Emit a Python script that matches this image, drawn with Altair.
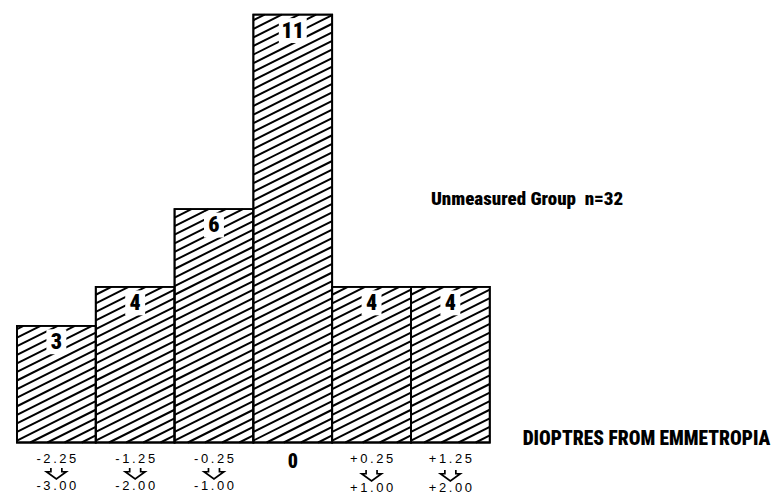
import altair as alt
import pandas as pd

# ---------------- data ----------------
counts = [3, 4, 6, 11, 4, 4]
upper_labels = ["-2.25", "-1.25", "-0.25", "0", "+0.25", "+1.25"]
lower_labels = ["-3.00", "-2.00", "-1.00", "", "+1.00", "+2.00"]
group_label = "Unmeasured Group\u00a0\u00a0n=32"
axis_label = "DIOPTRES FROM EMMETROPIA"

COND = ("'Noto Sans ExtraCondensed', 'Noto Sans Condensed', 'Roboto Condensed', "
        "'DejaVu Sans Condensed', 'Liberation Sans Narrow', 'Open Sans Condensed', "
        "'Liberation Sans', sans-serif")
PLAIN = "'Liberation Sans', Arial, Helvetica, sans-serif"

W, H = 495, 429
XDOM = [-0.0886, 6.177]
YDOM = [0, 11]
KX = W / (XDOM[1] - XDOM[0])   # px per x unit
KY = H / (YDOM[1] - YDOM[0])   # px per y unit


def spaced(s):
    return "\u2009".join(list(s))


rows = []
for i, (c, u, l) in enumerate(zip(counts, upper_labels, lower_labels)):
    side = "zero" if l == "" else ("neg" if u.startswith("-") else "pos")
    half = 2.8 if c >= 10 else 2.0
    rows.append({
        "lo": i, "hi": i + 1, "mid": i + 0.5, "count": c,
        "upper": spaced(u) if side != "zero" else u,
        "lower": spaced(l),
        "side": side,
        "box": f"M{-half},-2.5H{half}V2.5H{-half}Z",
    })
bars = pd.DataFrame(rows)

# hatch lines (style only): slope and spacing in pixels converted to data units
slope = 0.5 * KX / KY
step = 8.6 / KY
hatch = []
for i, c in enumerate(counts):
    k = -int(slope / step) - 2
    while True:
        b = k * step + 0.05
        k += 1
        if b > c:
            break
        xs = max(0.0, -b / slope)
        xe = min(1.0, (c - b) / slope)
        if xe - xs <= 1e-6:
            continue
        hatch.append({"x1": i + xs, "x2": i + xe,
                      "y1": slope * xs + b, "y2": slope * xe + b})
hatch = pd.DataFrame(hatch)

xs_ = alt.Scale(domain=XDOM, nice=False, zero=False)
ys_ = alt.Scale(domain=YDOM, nice=False, zero=False)

base = alt.Chart(bars)

bar_rect = base.mark_rect(fill="white", stroke="black", strokeWidth=1.8).encode(
    x=alt.X("lo:Q", scale=xs_, axis=alt.Axis(
        values=[0, 1, 2, 3, 4, 5, 6], labels=False, ticks=True, tickSize=6,
        tickWidth=1.5, tickColor="black", domainColor="black", domainWidth=2.5,
        grid=False, title=None)),
    x2="hi:Q",
    y=alt.Y("count:Q", scale=ys_, axis=None),
    y2=alt.datum(0),
)

hatch_lines = alt.Chart(hatch).mark_rule(stroke="black", strokeWidth=2, strokeCap="butt").encode(
    x=alt.X("x1:Q", scale=xs_, axis=None), x2="x2:Q",
    y=alt.Y("y1:Q", scale=ys_, axis=None), y2="y2:Q",
)

outline = base.mark_rect(filled=False, stroke="black", strokeWidth=1.8).encode(
    x=alt.X("lo:Q", scale=xs_, axis=None), x2="hi:Q",
    y=alt.Y("count:Q", scale=ys_, axis=None), y2=alt.datum(0),
)

boxes = base.mark_point(filled=True, fill="white", strokeWidth=0, opacity=1, size=100, yOffset=16).encode(
    x=alt.X("mid:Q", scale=xs_, axis=None),
    y=alt.Y("count:Q", scale=ys_, axis=None),
    shape=alt.Shape("box:N", scale=None),
)

count_text = base.mark_text(font=COND, fontSize=22, fontWeight=900, dy=16,
                            baseline="middle", color="black").encode(
    x=alt.X("mid:Q", scale=xs_, axis=None),
    y=alt.Y("count:Q", scale=ys_, axis=None),
    text="count:Q",
)

xm = alt.X("mid:Q", scale=xs_, axis=None)
ybase = alt.Y(datum=0, scale=ys_, axis=None)

upper_text = base.transform_filter("datum.side != 'zero'").mark_text(
    font=PLAIN, fontSize=13, dy=17, baseline="middle", color="black").encode(
    x=xm, y=ybase, text="upper:N")

zero_text = base.transform_filter("datum.side == 'zero'").mark_text(
    font=COND, fontSize=20, fontWeight=900, dy=20, baseline="middle", color="black").encode(
    x=xm, y=ybase, text="upper:N")

ARROW = "M-1,-1L-1,-0.3L-1.8,-0.3L0,1L1.8,-0.3L1,-0.3L1,-1"
arrows_neg = base.transform_filter("datum.side == 'neg'").mark_point(
    shape=ARROW, filled=False, stroke="black", strokeWidth=1.7, opacity=1, size=121, yOffset=31).encode(
    x=xm, y=ybase)
arrows_pos = base.transform_filter("datum.side == 'pos'").mark_point(
    shape=ARROW, filled=False, stroke="black", strokeWidth=1.7, opacity=1, size=121, yOffset=33).encode(
    x=xm, y=ybase)

lower_neg = base.transform_filter("datum.side == 'neg'").mark_text(
    font=PLAIN, fontSize=13, dy=44, baseline="middle", color="black").encode(
    x=xm, y=ybase, text="lower:N")
lower_pos = base.transform_filter("datum.side == 'pos'").mark_text(
    font=PLAIN, fontSize=13, dy=46, baseline="middle", color="black").encode(
    x=xm, y=ybase, text="lower:N")

annot = pd.DataFrame({"t": [group_label, axis_label], "px": [422, 514],
                      "py": [185, 426], "fs": [19, 19.5]})
group_text = alt.Chart(annot).mark_text(
    font=COND, fontWeight=900, align="left", baseline="middle", color="black").encode(
    x=alt.X("px:Q", scale=None, axis=None), y=alt.Y("py:Q", scale=None, axis=None),
    text="t:N", size=alt.Size("fs:Q", scale=None, legend=None))

chart = alt.layer(
    bar_rect, hatch_lines, outline, boxes, count_text,
    upper_text, zero_text, arrows_neg, arrows_pos, lower_neg, lower_pos, group_text,
).properties(
    width=W, height=H,
    padding={"left": 2, "top": 6, "right": 272, "bottom": 52},
    autosize=alt.AutoSizeParams(type="none"),
    background="white",
).configure_view(stroke=None)

chart.save("out.html", embed_options={"renderer": "svg", "actions": False})
